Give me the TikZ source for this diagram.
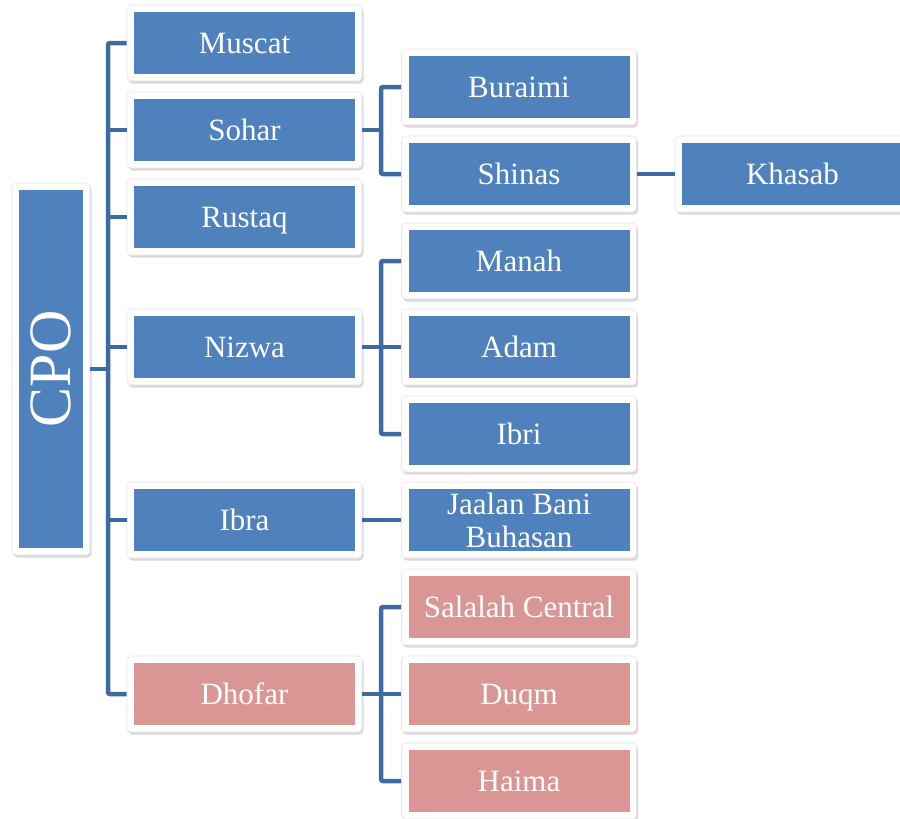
\documentclass[tikz,border=0pt]{standalone}
\usepackage{fontspec}
\setmainfont{LiberationSerif}[Extension=.ttf, UprightFont=*-Regular, BoldFont=*-Bold]
\usepackage{graphicx}
\usetikzlibrary{shadows}
\definecolor{cblue}{RGB}{79,129,189}
\definecolor{cred}{RGB}{217,150,148}
\definecolor{cline}{RGB}{62,106,162}
\tikzset{
  orgbox/.style={minimum width=235pt, minimum height=76pt, inner sep=0pt,
    fill=white, draw=black!10, line width=0.6pt, rounded corners=4pt,
    drop shadow={opacity=0.3, shadow xshift=1.5pt, shadow yshift=-2.5pt},
    text=white, font=\rmfamily\fontsize{31}{33}\selectfont, align=center,
    path picture={\fill[#1,sharp corners] ([shift={(7pt,7pt)}]path picture bounding box.south west) rectangle ([shift={(-7pt,-7pt)}]path picture bounding box.north east);}},
  oneline/.style={text height=24pt, text depth=3.4pt},
  conn/.style={draw=cline, line width=4.5pt, rounded corners=2pt}
}
\begin{document}
\begin{tikzpicture}[x=1pt,y=-1pt]
\useasboundingbox (0,0) rectangle (900,819);
% root
\node[orgbox=cblue, minimum width=78pt, minimum height=372pt] (cpo) at (51,369)
  {\fontsize{60}{60}\selectfont\rotatebox{90}{CPO}};
% level 1
\node[orgbox=cblue, oneline] (muscat) at (244.5,43) {Muscat};
\node[orgbox=cblue, oneline] (sohar) at (244.5,130) {Sohar};
\node[orgbox=cblue, oneline] (rustaq) at (244.5,217) {Rustaq};
\node[orgbox=cblue, oneline] (nizwa) at (244.5,347) {Nizwa};
\node[orgbox=cblue, oneline] (ibra) at (244.5,520) {Ibra};
\node[orgbox=cred, oneline] (dhofar) at (244.5,694) {Dhofar};
% level 2
\node[orgbox=cblue, oneline] (buraimi) at (519,87) {Buraimi};
\node[orgbox=cblue, oneline] (shinas) at (519,174) {Shinas};
\node[orgbox=cblue, oneline] (manah) at (519,261) {Manah};
\node[orgbox=cblue, oneline] (adam) at (519,347) {Adam};
\node[orgbox=cblue, oneline] (ibri) at (519,434) {Ibri};
\node[orgbox=cblue] (jaalan) at (519,520) {Jaalan Bani\\Buhasan};
\node[orgbox=cred, oneline] (salalah) at (519,607) {Salalah Central};
\node[orgbox=cred, oneline] (duqm) at (519,694) {Duqm};
\node[orgbox=cred, oneline] (haima) at (519,781) {Haima};
% level 3
\node[orgbox=cblue, oneline] (khasab) at (792.5,174) {Khasab};
% connectors
\coordinate (t) at (108,369);
\coordinate (s) at (381,130);
\coordinate (n) at (381,347);
\coordinate (d) at (381,694);
\draw[conn] (cpo.east) -- (t);
\draw[conn] (muscat.west) -| (t) |- (dhofar.west);
\draw[conn] (sohar.west) -- (sohar.west -| t);
\draw[conn] (rustaq.west) -- (rustaq.west -| t);
\draw[conn] (nizwa.west) -- (nizwa.west -| t);
\draw[conn] (ibra.west) -- (ibra.west -| t);
\draw[conn] (sohar.east) -- (s);
\draw[conn] (buraimi.west) -| (s) |- (shinas.west);
\draw[conn] (nizwa.east) -- (n);
\draw[conn] (manah.west) -| (n) |- (ibri.west);
\draw[conn] (adam.west) -- (n);
\draw[conn] (ibra.east) -- (jaalan.west);
\draw[conn] (dhofar.east) -- (d);
\draw[conn] (salalah.west) -| (d) |- (haima.west);
\draw[conn] (duqm.west) -- (d);
\draw[conn] (shinas.east) -- (khasab.west);
\end{tikzpicture}
\end{document}
